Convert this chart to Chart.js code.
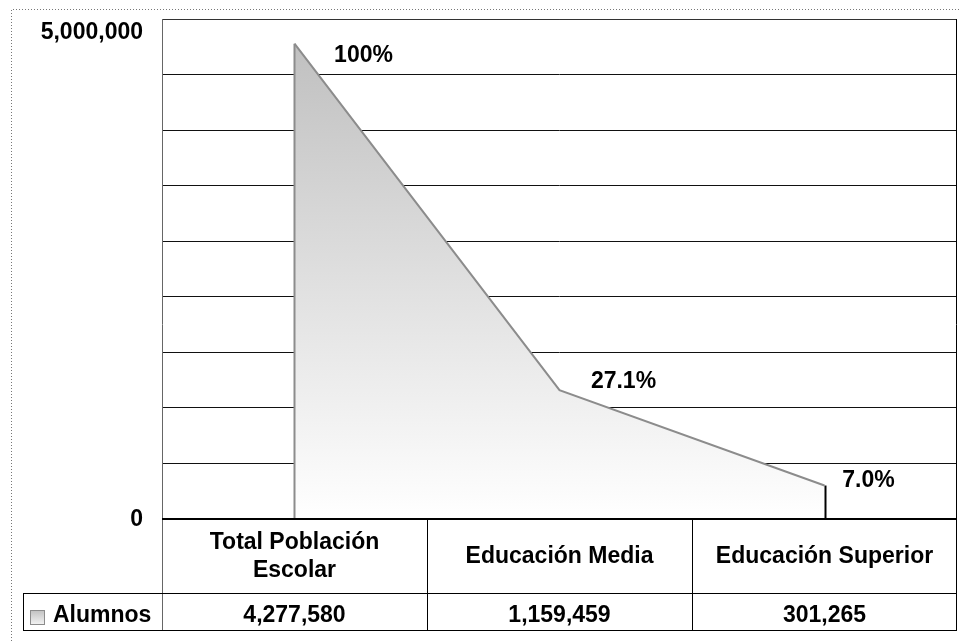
<!DOCTYPE html>
<html>
<head>
<meta charset="utf-8">
<script src="https://cdn.jsdelivr.net/npm/chart.js@4.4.1/dist/chart.umd.min.js"></script>
<style>
  html, body { margin: 0; padding: 0; background: #fff; }
  #wrap { width: 959px; height: 641px; }
</style>
</head>
<body>
<div id="wrap"><canvas id="c1" width="959" height="641"></canvas></div>
<script>
const categories = ["Total Población Escolar", "Educación Media", "Educación Superior"];
const seriesName = "Alumnos";
const alumnos = [4277580, 1159459, 301265];
const pctLabels = ["100%", "27.1%", "7.0%"];
const yTickLabels = ["0", "5,000,000"];

const FONT = "bold 23px 'Liberation Sans', Arial, sans-serif";
// label position relative to the point (centre of the text)
const labelOffsets = [[69, 12], [64, -9], [44, -5]];

const chartExtras = {
  id: "chartExtras",
  afterDraw(chart) {
    const ctx = chart.ctx;
    const a = chart.chartArea;
    const x = chart.scales.x;
    const y = chart.scales.y;
    const colW = (a.right - a.left) / categories.length;
    const headH = 74, rowH = 37;
    const rowTop = a.bottom + headH;
    const rowBot = rowTop + rowH;
    const legL = 23;

    ctx.save();

    // edges of the area
    const pts = chart.getDatasetMeta(0).data;
    const first = pts[0], last = pts[pts.length - 1];
    ctx.strokeStyle = "#8c8c8c";
    ctx.lineWidth = 2;
    ctx.beginPath();
    ctx.moveTo(first.x, first.y);
    ctx.lineTo(first.x, a.bottom);
    ctx.stroke();
    ctx.strokeStyle = "#000";
    ctx.beginPath();
    ctx.moveTo(last.x + 1, last.y);
    ctx.lineTo(last.x + 1, a.bottom);
    ctx.stroke();

    // plot border
    ctx.lineWidth = 1;
    ctx.strokeStyle = "#333";
    ctx.beginPath();
    ctx.moveTo(a.left, a.top + 0.5);
    ctx.lineTo(a.right, a.top + 0.5);
    ctx.stroke();
    ctx.strokeStyle = "#666";
    ctx.beginPath();
    ctx.moveTo(a.left + 0.5, a.top);
    ctx.lineTo(a.left + 0.5, rowBot);
    ctx.stroke();
    ctx.strokeStyle = "#000";
    ctx.beginPath();
    ctx.moveTo(a.right - 0.5, a.top);
    ctx.lineTo(a.right - 0.5, rowBot);
    ctx.stroke();

    // data table
    ctx.lineWidth = 2;
    ctx.beginPath();
    ctx.moveTo(a.left, a.bottom);
    ctx.lineTo(a.right, a.bottom);
    ctx.stroke();
    ctx.lineWidth = 1;
    ctx.beginPath();
    ctx.moveTo(legL, rowTop + 0.5);
    ctx.lineTo(a.right, rowTop + 0.5);
    ctx.moveTo(legL, rowBot + 0.5);
    ctx.lineTo(a.right, rowBot + 0.5);
    ctx.moveTo(legL + 0.5, rowTop);
    ctx.lineTo(legL + 0.5, rowBot);
    for (let i = 1; i < categories.length; i++) {
      const cx = Math.round(a.left + i * colW) + 0.5;
      ctx.moveTo(cx, a.bottom);
      ctx.lineTo(cx, rowBot);
    }
    ctx.stroke();

    ctx.fillStyle = "#000";
    ctx.font = FONT;
    ctx.textAlign = "center";
    ctx.textBaseline = "middle";
    categories.forEach((c, i) => {
      const cx = x.getPixelForValue(i);
      // simple word wrap
      const words = c.split(" ");
      const lines = [];
      let cur = "";
      words.forEach(w => {
        const t = cur ? cur + " " + w : w;
        if (ctx.measureText(t).width > colW - 20 && cur) {
          lines.push(cur);
          cur = w;
        } else {
          cur = t;
        }
      });
      lines.push(cur);
      const lh = 28;
      const mid = a.bottom + headH / 2 + 1;
      lines.forEach((l, k) => {
        ctx.fillText(l, cx, mid + (k - (lines.length - 1) / 2) * lh);
      });
      ctx.fillText(alumnos[i].toLocaleString("en-US"), cx, rowTop + rowH / 2 + 4);
    });

    // legend key in the table
    const g = ctx.createLinearGradient(0, rowTop + 17, 0, rowTop + 32);
    g.addColorStop(0, "#c0c0c0");
    g.addColorStop(1, "#f4f4f4");
    ctx.fillStyle = g;
    ctx.fillRect(30, rowTop + 17, 14, 14);
    ctx.strokeStyle = "#8c8c8c";
    ctx.strokeRect(30.5, rowTop + 17.5, 14, 14);
    ctx.fillStyle = "#000";
    ctx.textAlign = "left";
    ctx.fillText(seriesName, 53, rowTop + rowH / 2 + 4);

    // value axis labels
    ctx.textAlign = "right";
    const yVals = [y.min, y.max];
    yVals.forEach((v, i) => {
      const py = Math.max(y.getPixelForValue(v), a.top + 13);
      ctx.fillText(yTickLabels[i], 143, py + 1);
    });

    // percentage labels
    ctx.textAlign = "center";
    pts.forEach((p, i) => {
      ctx.fillText(pctLabels[i], p.x + labelOffsets[i][0], p.y + labelOffsets[i][1]);
    });

    // outer dotted frame
    ctx.strokeStyle = "#777";
    ctx.setLineDash([1, 2]);
    ctx.beginPath();
    ctx.moveTo(11.5, 650);
    ctx.lineTo(11.5, 9.5);
    ctx.lineTo(970, 9.5);
    ctx.stroke();

    ctx.restore();
  }
};

const ctx = document.getElementById("c1").getContext("2d");

new Chart(ctx, {
  type: "line",
  data: {
    labels: categories,
    datasets: [
      {
        label: seriesName,
        data: alumnos,
        borderColor: "#8c8c8c",
        borderWidth: 2,
        pointRadius: 0,
        tension: 0,
        fill: "origin",
        backgroundColor: function (context) {
          const chart = context.chart;
          const area = chart.chartArea;
          if (!area) return "#ddd";
          const top = chart.scales.y.getPixelForValue(Math.max(...alumnos));
          const g = chart.ctx.createLinearGradient(0, top, 0, area.bottom);
          g.addColorStop(0, "#c0c0c0");
          g.addColorStop(1, "#ffffff");
          return g;
        },
      },
    ],
  },
  options: {
    responsive: false,
    animation: false,
    layout: { padding: { top: 19, right: 2, left: 0, bottom: 0 } },
    plugins: {
      legend: { display: false },
      tooltip: { enabled: false },
    },
    scales: {
      x: {
        offset: true,
        grid: { display: false },
        border: { display: false },
        ticks: { display: false },
        afterFit: function (scale) { scale.height = 122; },
      },
      y: {
        min: 0,
        max: 4500000,
        ticks: { display: false, stepSize: 500000 },
        grid: { color: "#111", lineWidth: 1, drawTicks: false },
        border: { display: false },
        afterFit: function (scale) { scale.width = 162; },
      },
    },
  },
  plugins: [chartExtras],
});
</script>
</body>
</html>
